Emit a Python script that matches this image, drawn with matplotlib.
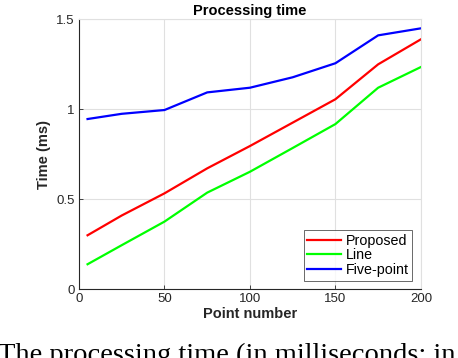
import matplotlib
matplotlib.use('Agg')
import matplotlib.pyplot as plt

# point counts and processing time (ms)
points = [5, 25, 50, 75, 100, 125, 150, 175, 200]
proposed = [0.30, 0.41, 0.533, 0.672, 0.796, 0.926, 1.056, 1.25, 1.389]
line = [0.139, 0.245, 0.376, 0.537, 0.653, 0.785, 0.918, 1.12, 1.235]
five_point = [0.946, 0.975, 0.996, 1.094, 1.12, 1.178, 1.256, 1.411, 1.45]

plt.rcParams['font.family'] = ['Liberation Sans', 'DejaVu Sans']
dark = '#262626'

fig = plt.figure(figsize=(4.58, 3.58), dpi=100)
ax = fig.add_axes([0.1725, 0.192, 0.7465, 0.754])

ax.plot(points, proposed, color=(1, 0, 0), lw=1.6, label='Proposed')
ax.plot(points, line, color=(0, 1, 0), lw=1.6, label='Line')
ax.plot(points, five_point, color=(0, 0, 1), lw=1.6, label='Five-point')

ax.set_xlim(0, 200)
ax.set_ylim(0, 1.5)
ax.set_xticks([0, 50, 100, 150, 200])
ax.set_yticks([0, 0.5, 1, 1.5])
ax.set_yticklabels(['0', '0.5', '1', '1.5'])
ax.grid(True, color='#e0e0e0', lw=0.8)
ax.set_axisbelow(True)
for s in ['top', 'right']:
    ax.spines[s].set_color('#e0e0e0')
for s in ['left', 'bottom']:
    ax.spines[s].set_color(dark)
    ax.spines[s].set_linewidth(0.8)
ax.tick_params(direction='in', length=3, width=0.6, colors=dark, labelsize=9.5, pad=3,
               top=False, right=False)

ax.set_xlabel('Point number', fontsize=10.5, fontweight='bold', color=dark, labelpad=1)
ax.set_ylabel('Time (ms)', fontsize=10.5, fontweight='bold', color=dark, labelpad=4)
ax.set_title('Processing time', fontsize=10.5, fontweight='bold', color='black', pad=3)

leg = ax.legend(loc='lower right', fontsize=10.3, frameon=True, fancybox=False,
                borderpad=0.25, labelspacing=0.05, handlelength=2.4, handletextpad=0.3,
                borderaxespad=0.6)
leg.get_frame().set_edgecolor(dark)
leg.get_frame().set_linewidth(0.6)

# caption of the source page, cut off at the bottom edge as in the original
fig.text(-0.004, 0.042, 'The processing time (in milliseconds; in', fontsize=20.5,
         family=['Liberation Serif', 'DejaVu Serif'], va='top', ha='left')

fig.savefig('out.png', dpi=100)
